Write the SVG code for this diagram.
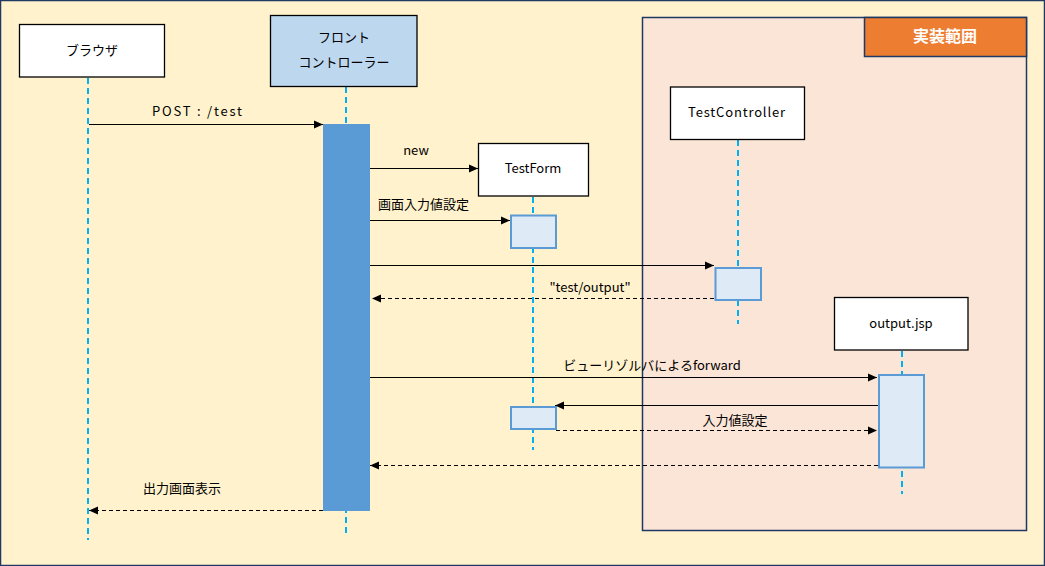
<svg xmlns="http://www.w3.org/2000/svg" width="1045" height="566" viewBox="0 0 1045 566">
<style>
text{font-family:"Noto Sans CJK JP","Noto Sans",sans-serif;font-size:13px;fill:#000;}
.c{text-anchor:middle;}
.b{font-weight:bold;}
.box{fill:#fff;stroke:#000;stroke-width:1.3;}
.life{stroke:#00B0F0;stroke-width:2;stroke-dasharray:6,4;fill:none;}
.act{fill:#DEEBF7;stroke:#5B9BD5;stroke-width:2;}
.msg{stroke:#000;stroke-width:1.2;fill:none;}
.ret{stroke:#000;stroke-width:1.2;fill:none;stroke-dasharray:4,3;}
</style>
<defs>
<marker id="ah" markerWidth="10" markerHeight="10" refX="9" refY="5" orient="auto" markerUnits="userSpaceOnUse">
<path d="M0,1 L9,5 L0,9 Z" fill="#000"/>
</marker>
</defs>
<rect x="0.5" y="0.5" width="1044" height="565" fill="#FFF2CC" stroke="#1F3864" stroke-width="1.5"/>
<g id="scope">
<rect x="642.5" y="17.5" width="384" height="513" fill="#FBE5D6" stroke="#1F3864" stroke-width="1.5"/>
<rect x="864.5" y="17.5" width="162" height="39" fill="#ED7D31" stroke="#1F3864" stroke-width="1.5"/>
<text x="945" y="42" class="c b" style="fill:#fff;font-size:16px">実装範囲</text>
</g>
<g id="lifelines">
<line class="life" x1="88" y1="78" x2="88" y2="540"/>
<line class="life" x1="346" y1="87" x2="346" y2="537"/>
<line class="life" x1="533" y1="197" x2="533" y2="450"/>
<line class="life" x1="738" y1="140" x2="738" y2="324"/>
<line class="life" x1="902" y1="351" x2="902" y2="494"/>
</g>
<g id="browser">
<rect class="box" x="19.5" y="24.5" width="145" height="52.5"/>
<text x="92" y="55" class="c">ブラウザ</text>
</g>
<g id="front-controller">
<rect x="270.5" y="15.5" width="146.5" height="71" fill="#BDD7EE" stroke="#000" stroke-width="1.3"/>
<text x="344" y="42" class="c">フロント</text>
<text x="344" y="67" class="c">コントローラー</text>
<rect x="323" y="124" width="47" height="387" fill="#5B9BD5"/>
</g>
<g id="testform">
<rect class="box" x="478.5" y="143.5" width="110" height="52.5"/>
<text x="533" y="173" class="c">TestForm</text>
<rect class="act" x="511" y="215.5" width="45" height="32.5"/>
<rect class="act" x="511" y="407" width="45" height="22"/>
</g>
<g id="testcontroller">
<rect class="box" x="670.5" y="87" width="134" height="52.5"/>
<text x="688" y="117" textLength="97">TestController</text>
<rect class="act" x="715.5" y="268" width="45.5" height="32"/>
</g>
<g id="output-jsp">
<rect class="box" x="834.5" y="297.5" width="133.5" height="52.5"/>
<text x="901" y="328" class="c">output.jsp</text>
<rect class="act" x="879" y="375" width="45" height="92.5"/>
</g>
<g id="connectors">
<line class="msg" x1="89" y1="124.5" x2="323" y2="124.5" marker-end="url(#ah)"/>
<text x="152" y="116" textLength="90" xml:space="preserve">POST : /test</text>
<line class="msg" x1="370" y1="168.5" x2="478" y2="168.5" marker-end="url(#ah)"/>
<text x="416" y="155" class="c">new</text>
<line class="msg" x1="370" y1="220.5" x2="510" y2="220.5" marker-end="url(#ah)"/>
<text x="378" y="209">画面入力値設定</text>
<line class="msg" x1="370" y1="265.5" x2="714" y2="265.5" marker-end="url(#ah)"/>
<line class="ret" x1="714" y1="298.5" x2="372" y2="298.5" marker-end="url(#ah)"/>
<text x="590" y="292" class="c">"test/output"</text>
<line class="msg" x1="370" y1="377.5" x2="877" y2="377.5" marker-end="url(#ah)"/>
<text x="652" y="370" class="c">ビューリゾルバによるforward</text>
<line class="msg" x1="878" y1="405.5" x2="555" y2="405.5" marker-end="url(#ah)"/>
<line class="ret" x1="556" y1="430.5" x2="877" y2="430.5" marker-end="url(#ah)"/>
<text x="735" y="425" class="c">入力値設定</text>
<line class="ret" x1="878" y1="465.5" x2="370" y2="465.5" marker-end="url(#ah)"/>
<line class="ret" x1="323" y1="510.5" x2="89" y2="510.5" marker-end="url(#ah)"/>
<text x="182" y="493" class="c">出力画面表示</text>
</g>
</svg>
